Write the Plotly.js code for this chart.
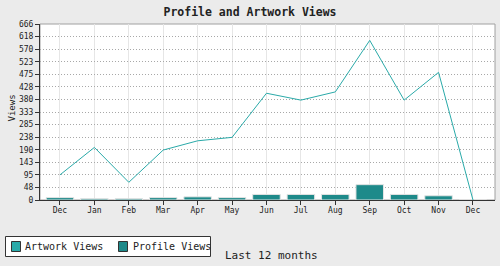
<!DOCTYPE html>
<html><head><meta charset="utf-8">
<script src="https://cdn.plot.ly/plotly-3.0.1.min.js"></script>
<style>html,body{margin:0;padding:0;background:#ebebeb}#c{width:500px;height:266px}</style>
</head><body><div id="c"></div>
<script>
var months = ["Dec","Jan","Feb","Mar","Apr","May","Jun","Jul","Aug","Sep","Oct","Nov","Dec"];
var artworkViews = [95, 199, 67, 189, 224, 237, 404, 378, 409, 604, 378, 483, 0];
var profileViews = [9, 5, 5, 9, 12, 9, 21, 21, 21, 58, 21, 16, 0];
var yTickVals = [0,48,95,143,190,238,285,333,380,428,475,523,570,618,666];
var seriesNames = ["Artwork Views", "Profile Views"];

var idx = months.map(function(_, i){ return i; });
var F = "DejaVu Sans Mono";
var lineColor = "#2aaaa9", barColor = "#1e8a8a";

// pixel -> paper helpers (plot area: x 40..495, y 24..200)
function px(x){ return (x-40)/455; }
function py(y){ return (200-y)/176; }

var traces = [
  {type:"bar", x: idx, y: profileViews, width:0.8, marker:{color:barColor, line:{color:"#e4e4e4", width:1}}, showlegend:false, hoverinfo:"skip"},
  {type:"scatter", mode:"lines", x: idx, y: artworkViews, line:{color:lineColor, width:1}, showlegend:false, hoverinfo:"skip"}
];

var layout = {
  width:500, height:266,
  margin:{l:40, r:5, t:24, b:66, pad:0},
  paper_bgcolor:"#ebebeb", plot_bgcolor:"#ffffff",
  font:{family:F, size:8, color:"#222"},
  showlegend:false,
  title:{text:"<b>Profile and Artwork Views</b>", font:{family:F, size:11.5, color:"#222"}, x:0.5, xanchor:"center", y:1-12/266, yref:"container", yanchor:"middle"},
  xaxis:{range:[-0.58, 12.64], tickvals: idx, ticktext: months, showgrid:true, gridcolor:"#e6e6e6", gridwidth:1,
         showline:true, linecolor:"#333", linewidth:1, ticks:"outside", ticklen:4, tickcolor:"#333", zeroline:false, fixedrange:true,
         ticklabelstandoff:-2, tickfont:{family:F, size:8, color:"#222"}},
  yaxis:{range:[0,666], tickvals:yTickVals, ticktext:yTickVals.map(String), showgrid:true, gridcolor:"#a8a8a8", griddash:"1px,2px", gridwidth:1,
         showline:true, linecolor:"#333", linewidth:1, ticks:"outside", ticklen:4, tickcolor:"#333", zeroline:false, fixedrange:true,
         tickfont:{family:F, size:8, color:"#222"}},
  shapes:[
    {type:"rect", xref:"paper", yref:"paper", x0:0, x1:1, y0:0, y1:1, line:{color:"#a0a0a0", width:1}, layer:"below"},
    {type:"rect", xref:"paper", yref:"paper", x0:px(5.5), x1:px(210.5), y0:py(236.5), y1:py(256.5), fillcolor:"#ffffff", line:{color:"#333", width:1}},
    {type:"rect", xref:"paper", yref:"paper", x0:px(11.5), x1:px(20.5), y0:py(241.5), y1:py(251.5), fillcolor:lineColor, line:{color:"#333", width:1}},
    {type:"rect", xref:"paper", yref:"paper", x0:px(118.5), x1:px(127.5), y0:py(241.5), y1:py(251.5), fillcolor:barColor, line:{color:"#333", width:1}}
  ],
  annotations:[
    {text:"Views", xref:"paper", yref:"paper", x:px(11), y:py(108.5), xanchor:"center", yanchor:"middle", textangle:-90, showarrow:false, font:{family:F, size:9, color:"#222"}},
    {text:seriesNames[0], xref:"paper", yref:"paper", x:px(23), y:py(246.5), xanchor:"left", yanchor:"middle", showarrow:false, font:{family:F, size:10, color:"#222"}},
    {text:seriesNames[1], xref:"paper", yref:"paper", x:px(131), y:py(246.5), xanchor:"left", yanchor:"middle", showarrow:false, font:{family:F, size:10, color:"#222"}},
    {text:"Last 12 months", xref:"paper", yref:"paper", x:px(223), xanchor:"left", y:py(255), yanchor:"middle", showarrow:false, font:{family:F, size:11, color:"#222"}}
  ]
};
Plotly.newPlot("c", traces, layout, {staticPlot:true, displayModeBar:false});
</script></body></html>
